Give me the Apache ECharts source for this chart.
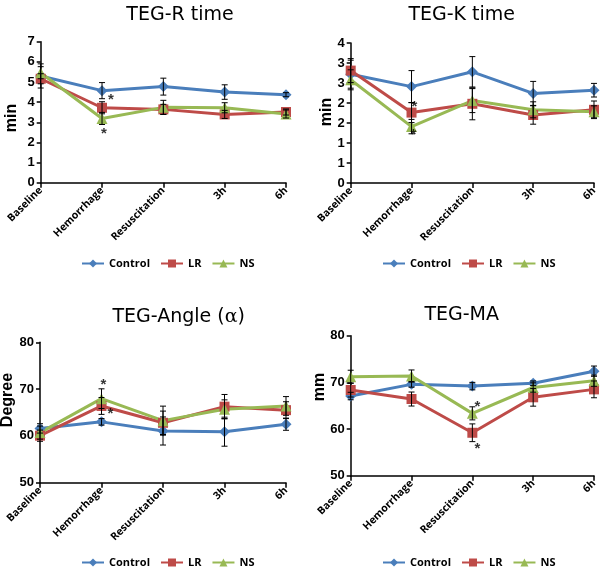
<!DOCTYPE html>
<html>
<head>
<meta charset="utf-8">
<script src="https://cdn.jsdelivr.net/npm/echarts@6/dist/echarts.min.js"></script>
<style>html,body{margin:0;padding:0;background:#fff;}#c{width:600px;height:571px;}</style>
</head>
<body>
<div id="c"></div>
<script>
// ---------- DATA ----------
const categories = ['Baseline', 'Hemorrhage', 'Resuscitation', '3h', '6h'];
const seriesNames = ['Control', 'LR', 'NS'];

// TEG-R time (min)
const rControl = [5.30, 4.57, 4.77, 4.50, 4.37];
const rLR      = [5.16, 3.72, 3.64, 3.39, 3.51];
const rNS      = [5.46, 3.19, 3.74, 3.72, 3.41];
const rControlErr = [0.60, 0.40, 0.42, 0.36, 0.10];
const rLRErr      = [0.25, 0.30, 0.25, 0.20, 0.15];
const rNSErr      = [0.30, 0.30, 0.35, 0.25, 0.20];
const rStarRight  = [['Hemorrhage', 4.27]];
const rStarCenter = [['Hemorrhage', 2.55]];

// TEG-K time (min)
const kControl = [2.72, 2.41, 2.78, 2.24, 2.32];
const kLR      = [2.81, 1.76, 1.98, 1.70, 1.83];
const kNS      = [2.58, 1.41, 2.06, 1.83, 1.78];
const kControlErr = [0.35, 0.40, 0.38, 0.30, 0.17];
const kLRErr      = [0.30, 0.25, 0.40, 0.23, 0.22];
const kNSErr      = [0.25, 0.18, 0.30, 0.20, 0.15];
const kStarRight  = [['Hemorrhage', 1.97]];
const kStarCenter = [['Hemorrhage', 1.29]];
const kTickLabels = ['0', '1', '1', '2', '2', '3', '3', '4'];

// TEG-Angle (Degree)
const aControl = [61.6, 63.0, 61.05, 60.9, 62.5];
const aLR      = [60.05, 66.4, 62.8, 66.25, 65.5];
const aNS      = [60.7, 67.96, 63.26, 65.7, 66.4];
const aControlErr = [1.0, 0.7, 3.0, 3.1, 1.3];
const aLRErr      = [1.2, 1.8, 2.5, 2.6, 1.8];
const aNSErr      = [1.4, 2.1, 3.1, 2.0, 2.0];
const aStarRight  = [['Hemorrhage', 65.4]];
const aStarCenter = [['Hemorrhage', 71.6]];

// TEG-MA (mm)
const mControl = [67.07, 69.57, 69.2, 69.8, 72.4];
const mLR      = [68.36, 66.43, 59.2, 66.8, 68.5];
const mNS      = [71.2, 71.36, 63.36, 68.9, 70.36];
const mControlErr = [0.8, 0.6, 0.8, 0.5, 1.1];
const mLRErr      = [1.5, 1.5, 1.9, 1.9, 1.8];
const mNSErr      = [1.4, 1.3, 1.4, 1.0, 1.2];
const mStarRight  = [['Resuscitation', 65.5], ['Resuscitation', 56.4]];
const mStarCenter = [];

// ---------- STYLE / LAYOUT ----------
const colors = ['#4A7EBB', '#BE4B48', '#98B954'];
const symbols = ['diamond', 'rect', 'triangle'];
const symbolSizes = [11, 10, 11];
const LABEL_FONT = '"Open Sans", "DejaVu Sans", sans-serif';
const AXIS_FONT = '"Liberation Sans", Arial, sans-serif';
const TITLE_FONT = '"DejaVu Sans", sans-serif';

const panels = [
  { title: 'TEG-R time', titleX: 175, titleY: 1, grid: {left: 40.7, top: 41.7, width: 245.3, height: 141},
    min: 0, max: 7, interval: 1, name: 'min', nameX: 12, nameY: 118,
    data: [rControl, rLR, rNS], err: [rControlErr, rLRErr, rNSErr], starR: rStarRight, starC: rStarCenter, starOff: 9,
    legendLeft: 76, legendTop: 253 },
  { title: 'TEG-K time', titleX: 456.7, titleY: 1, grid: {left: 350.7, top: 43, width: 245.3, height: 140},
    min: 0, max: 3.5, interval: 0.5, name: 'min', nameX: 326.7, nameY: 112,
    fmt: v => kTickLabels[Math.round(v / 0.5)],
    data: [kControl, kLR, kNS], err: [kControlErr, kLRErr, kNSErr], starR: kStarRight, starC: kStarCenter, starOff: 3,
    legendLeft: 377, legendTop: 253 },
  { title: 'TEG-Angle (α)', titleX: 173.7, titleY: 303, grid: {left: 40, top: 342.3, width: 246, height: 140.4},
    min: 50, max: 80, interval: 10, name: 'Degree', nameX: 8, nameY: 400,
    data: [aControl, aLR, aNS], err: [aControlErr, aLRErr, aNSErr], starR: aStarRight, starC: aStarCenter, starOff: 9,
    legendLeft: 76, legendTop: 552 },
  { title: 'TEG-MA', titleX: 456.7, titleY: 301, grid: {left: 350.7, top: 335.7, width: 245.3, height: 140},
    min: 50, max: 80, interval: 10, name: 'mm', nameX: 320, nameY: 387,
    data: [mControl, mLR, mNS], err: [mControlErr, mLRErr, mNSErr], starR: mStarRight, starC: mStarCenter, starOff: 5,
    legendLeft: 377, legendTop: 552 }
];

function errRender(params, api) {
  const x = api.value(0);
  const lo = api.coord([x, api.value(1)]);
  const hi = api.coord([x, api.value(2)]);
  const w = 3;
  const st = { stroke: '#000', lineWidth: 1 };
  return { type: 'group', children: [
    { type: 'line', shape: { x1: lo[0], y1: lo[1], x2: hi[0], y2: hi[1] }, style: st },
    { type: 'line', shape: { x1: lo[0] - w, y1: lo[1], x2: lo[0] + w, y2: lo[1] }, style: st },
    { type: 'line', shape: { x1: hi[0] - w, y1: hi[1], x2: hi[0] + w, y2: hi[1] }, style: st }
  ]};
}

const option = {
  animation: false,
  backgroundColor: '#fff',
  title: [], grid: [], xAxis: [], yAxis: [], legend: [], series: [], graphic: []
};

panels.forEach((p, gi) => {
  const isAngle = p.title.indexOf('α') >= 0;
  option.title.push({
    text: isAngle ? '{a|TEG-Angle (}{b|α}{a|)}' : p.title,
    left: p.titleX, top: p.titleY, textAlign: 'center',
    textStyle: isAngle ? {
      fontWeight: 'normal',
      rich: { a: { fontFamily: TITLE_FONT, fontSize: 19, fontWeight: 'normal', color: '#000' },
              b: { fontFamily: '"DejaVu Serif", serif', fontSize: 19, fontWeight: 'normal', fontStyle: 'normal', color: '#000' } }
    } : { fontFamily: TITLE_FONT, fontSize: 19, fontWeight: 'normal', color: '#000' }
  });
  option.grid.push(Object.assign({ containLabel: false }, p.grid));
  option.xAxis.push({
    type: 'category', gridIndex: gi, data: categories, boundaryGap: false,
    axisLine: { lineStyle: { color: '#000', width: 1.5 } },
    axisTick: { show: true, inside: false, length: 5, alignWithLabel: true, lineStyle: { color: '#000', width: 1.5 } },
    axisLabel: { interval: 0, rotate: 45, margin: 6, color: '#000', fontWeight: 'bold', fontSize: 10.5, fontFamily: LABEL_FONT },
    splitLine: { show: false }
  });
  option.yAxis.push({
    type: 'value', gridIndex: gi, min: p.min, max: p.max, interval: p.interval,
    axisLine: { show: true, lineStyle: { color: '#000', width: 1.5 } },
    axisTick: { show: true, length: 4, lineStyle: { color: '#000', width: 1.5 } },
    axisLabel: { color: '#000', fontWeight: 'bold', fontSize: 13, fontFamily: AXIS_FONT, margin: 6,
                 formatter: p.fmt ? p.fmt : (v => String(v)) },
    splitLine: { show: false }
  });
  option.legend.push({
    data: seriesNames, left: p.legendLeft, top: p.legendTop, itemWidth: 22, itemHeight: 10, itemGap: 10,
    textStyle: { color: '#000', fontWeight: 'bold', fontSize: 11, fontFamily: LABEL_FONT }
  });
  option.graphic.push({
    type: 'text', x: p.nameX, y: p.nameY, rotation: Math.PI / 2,
    style: { text: p.name, fill: '#000', font: 'bold 16px "Liberation Sans", Arial, sans-serif', align: 'center', verticalAlign: 'middle' }
  });
  seriesNames.forEach((nm, si) => {
    option.series.push({
      name: nm, type: 'line', xAxisIndex: gi, yAxisIndex: gi, data: p.data[si], z: 3,
      symbol: symbols[si], symbolSize: symbolSizes[si], showSymbol: true,
      lineStyle: { color: colors[si], width: 3 }, itemStyle: { color: colors[si] }
    });
  });
  seriesNames.forEach((nm, si) => {
    option.series.push({
      name: 'err-' + nm, type: 'custom', xAxisIndex: gi, yAxisIndex: gi, z: 4, silent: true,
      data: p.data[si].map((v, i) => [i, v - p.err[si][i], v + p.err[si][i]]),
      renderItem: errRender
    });
  });
  const starLabel = { show: true, formatter: '*', color: '#000', fontSize: 15, fontWeight: 'bold', fontFamily: AXIS_FONT, position: 'inside' };
  option.series.push({
    name: 'star-r', type: 'scatter', xAxisIndex: gi, yAxisIndex: gi, z: 6, silent: true,
    symbolSize: 1, itemStyle: { color: 'rgba(0,0,0,0)' }, data: p.starR,
    label: Object.assign({}, starLabel, { offset: [p.starOff, 3] })
  });
  option.series.push({
    name: 'star-c', type: 'scatter', xAxisIndex: gi, yAxisIndex: gi, z: 6, silent: true,
    symbolSize: 1, itemStyle: { color: 'rgba(0,0,0,0)' }, data: p.starC,
    label: Object.assign({}, starLabel, { offset: [2, 3] })
  });
});

const chart = echarts.init(document.getElementById('c'), null, { renderer: 'canvas' });
chart.setOption(option);
</script>
</body>
</html>
